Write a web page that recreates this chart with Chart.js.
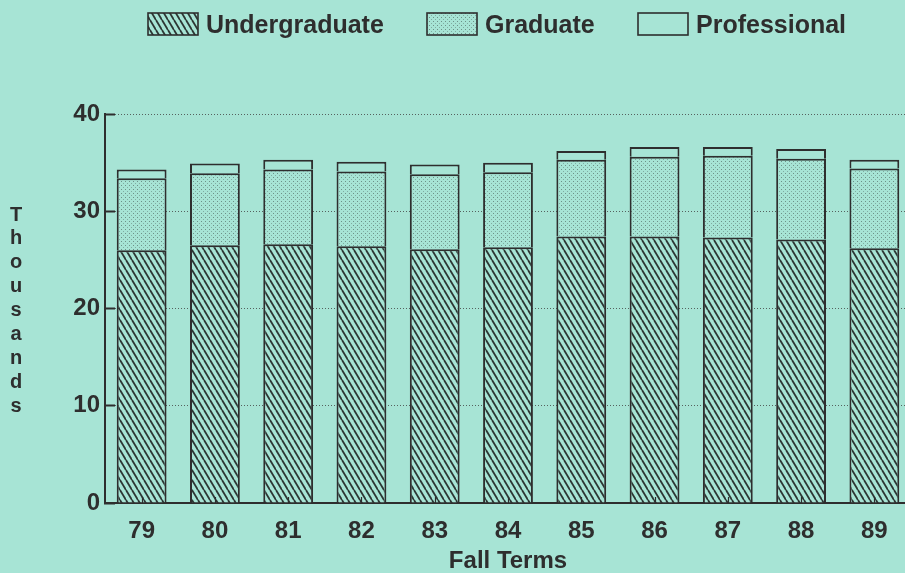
<!DOCTYPE html>
<html>
<head>
<meta charset="utf-8">
<script src="https://cdn.jsdelivr.net/npm/chart.js@4/dist/chart.umd.min.js"></script>
<style>
  html, body { margin: 0; padding: 0; overflow: hidden; background: #a7e4d5; }
  #wrap { width: 911px; height: 573px; }
</style>
</head>
<body>
<div id="wrap"><canvas id="c" width="911" height="573"></canvas></div>
<script>
// ---- data ----
const fallTerms = ['79', '80', '81', '82', '83', '84', '85', '86', '87', '88', '89'];
const undergraduate = [26.0, 26.5, 26.6, 26.4, 26.1, 26.3, 27.4, 27.4, 27.3, 27.1, 26.2];
const graduate      = [7.4, 7.4, 7.7, 7.7, 7.7, 7.7, 7.9, 8.2, 8.4, 8.3, 8.2];
const professional  = [0.9, 1.0, 1.0, 1.0, 1.0, 1.0, 0.9, 1.0, 0.9, 1.0, 0.9];
const seriesNames = ['Undergraduate', 'Graduate', 'Professional'];
const yTicks = [0, 10, 20, 30, 40];
const yTitle = 'Thousands';
const xTitle = 'Fall Terms';

// ---- styles ----
const BG = '#a7e4d5';
const INK = '#2e2e2e';
const FONT = '"Liberation Sans", Arial, Helvetica, sans-serif';

function hatchPattern() {
  const w = 6, h = 10;
  const c = document.createElement('canvas');
  c.width = w; c.height = h;
  const x = c.getContext('2d');
  x.fillStyle = BG; x.fillRect(0, 0, w, h);
  x.strokeStyle = '#2c3633'; x.lineWidth = 1.8;
  for (let k = -1; k <= 1; k++) {
    x.beginPath(); x.moveTo(k * w, 0); x.lineTo(k * w + w, h); x.stroke();
  }
  return x.createPattern(c, 'repeat');
}
function dotPattern() {
  const c = document.createElement('canvas');
  c.width = 4; c.height = 4;
  const x = c.getContext('2d');
  x.fillStyle = BG; x.fillRect(0, 0, 4, 4);
  x.fillStyle = 'rgba(70,90,85,0.6)';
  x.fillRect(1, 1, 1, 1);
  x.fillStyle = 'rgba(70,90,85,0.4)';
  x.fillRect(3, 3, 1, 1);
  return x.createPattern(c, 'repeat');
}
const fills = [hatchPattern(), dotPattern(), BG];

const customText = {
  id: 'customText',
  afterDatasetsDraw(chart) {
    // small category tick marks drawn on top of the bars (as in the original)
    const ctx = chart.ctx;
    const xs = chart.scales.x;
    const bottom = chart.chartArea.bottom;
    ctx.save();
    ctx.strokeStyle = INK; ctx.lineWidth = 1.2;
    fallTerms.forEach((_, i) => {
      const px = Math.round(xs.getPixelForTick(i)) + 0.5;
      ctx.beginPath(); ctx.moveTo(px, bottom); ctx.lineTo(px, bottom - 6); ctx.stroke();
    });
    ctx.restore();
  },
  afterDraw(chart) {
    const ctx = chart.ctx;
    ctx.save();
    // vertical stacked y title
    ctx.fillStyle = INK;
    ctx.font = 'bold 20px ' + FONT;
    ctx.textAlign = 'center';
    ctx.textBaseline = 'middle';
    yTitle.split('').forEach((ch, i) => ctx.fillText(ch, 16, 215 + i * 23.9));
    // legend
    const boxX = [148, 427, 638];
    ctx.font = 'bold 25px ' + FONT;
    ctx.textAlign = 'left';
    chart.data.datasets.forEach((ds, i) => {
      ctx.fillStyle = ds.backgroundColor;
      ctx.fillRect(boxX[i], 13, 50, 22);
      ctx.strokeStyle = INK; ctx.lineWidth = 1.6;
      ctx.strokeRect(boxX[i], 13, 50, 22);
      ctx.fillStyle = INK;
      ctx.fillText(ds.label, boxX[i] + 58, 26);
    });
    ctx.restore();
  }
};

const datasets = [undergraduate, graduate, professional].map((vals, i) => ({
  label: seriesNames[i],
  data: vals,
  backgroundColor: fills[i],
  borderColor: INK,
  borderWidth: 2,
  borderSkipped: 'start',
  categoryPercentage: 1.0,
  barPercentage: 0.68
}));

new Chart(document.getElementById('c'), {
  type: 'bar',
  data: { labels: fallTerms, datasets },
  options: {
    responsive: false,
    animation: false,
    events: [],
    layout: { padding: { left: 0, top: 114, right: 0, bottom: 0 } },
    plugins: { legend: { display: false }, tooltip: { enabled: false } },
    scales: {
      x: {
        stacked: true,
        afterFit(s) { s.height = 70; },
        grid: { drawOnChartArea: false, drawTicks: true, tickLength: -6, tickColor: INK, tickWidth: 1.2, offset: false },
        border: { display: true, color: INK, width: 2 },
        ticks: { color: INK, font: { family: FONT, size: 24, weight: 'bold' }, padding: 20, maxRotation: 0 },
        title: { display: true, text: xTitle, color: INK, font: { family: FONT, size: 24, weight: 'bold', lineHeight: 1 }, padding: 0 }
      },
      y: {
        stacked: true,
        min: 0, max: 40,
        afterFit(s) { s.width = 105; },
        afterBuildTicks(s) { s.ticks = yTicks.map(v => ({ value: v })); },
        grid: { drawOnChartArea: true, color: '#55625f', lineWidth: 1, drawTicks: true, tickLength: -10, tickColor: INK, tickWidth: 2, tickBorderDash: [] },
        border: { display: true, color: INK, width: 2, dash: [1, 2] },
        ticks: { color: INK, font: { family: FONT, size: 24, weight: 'bold' }, padding: 15 }
      }
    }
  },
  plugins: [customText]
});
</script>
</body>
</html>
